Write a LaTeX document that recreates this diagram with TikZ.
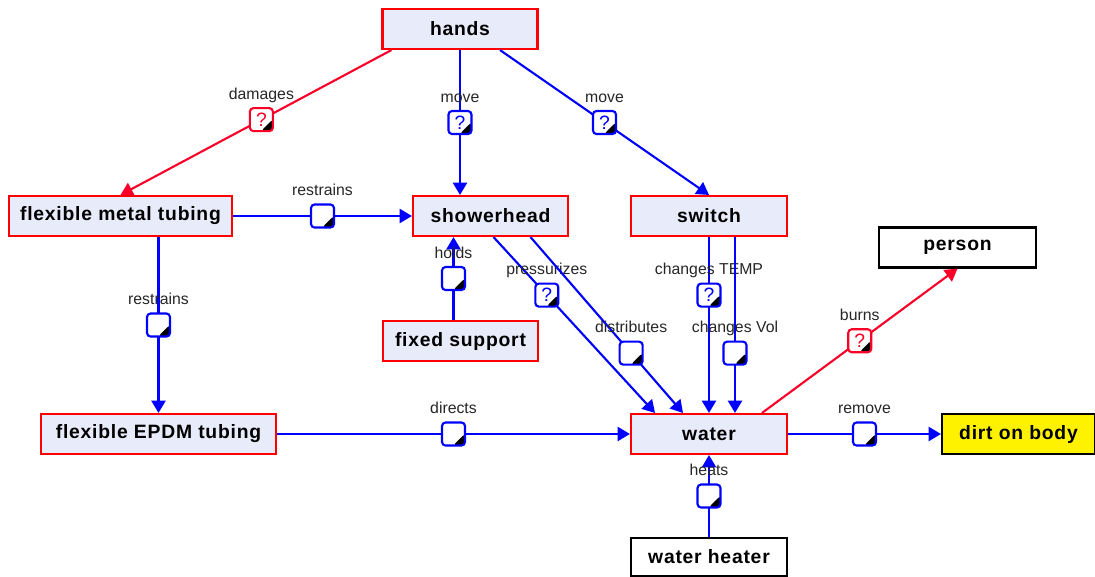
\documentclass[tikz,border=0pt]{standalone}
\usepackage{fontspec}
\setmainfont{Liberation Sans}
\usetikzlibrary{arrows.meta}
\usetikzlibrary{positioning}

\definecolor{boxfill}{RGB}{232,236,250}
\definecolor{linkblue}{RGB}{0,0,255}
\definecolor{linkred}{RGB}{250,0,40}

\tikzset{
  partbox/.style={draw=red,line width=1.2pt,fill=boxfill,font=\bfseries\fontsize{11}{13}\selectfont\addfontfeature{LetterSpace=4},minimum height=0.8cm,inner sep=2pt},
  envbox/.style={partbox,draw=black},
  envbox/.append style={fill=white},
  goodlink/.style={draw=linkblue,line width=1.2pt,-{Triangle[width=8pt,length=7pt]}},
  badlink/.style={goodlink,draw=linkred},
  mk/.style={draw=#1,text=#1,fill=white,line width=1.2pt,rounded corners=2pt,minimum size=0.46cm,inner sep=0pt,font=\fontsize{11}{13}\selectfont,
    path picture={\fill[black] (path picture bounding box.south east) -- ++(-0.24cm,0) -- ++(0.24cm,0.24cm) -- cycle;}},
  mk/.default=linkblue,
  lbl/.style={font=\fontsize{9}{10}\selectfont,text=black!85,inner sep=0pt,text height=1.6ex,text depth=0.4ex,on grid},
}

\begin{document}
\begin{tikzpicture}[x=0.02cm,y=-0.02cm]
\useasboundingbox (0,0) rectangle (1095,576);

% parts of the system
\node[partbox,minimum width=3.1cm] (hands) at (460,29) {hands};
\node[partbox,minimum width=4.46cm] (metal) at (120.5,216) {flexible metal tubing};
\node[partbox,minimum width=3.1cm] (shower) at (490.5,216) {showerhead};
\node[partbox,minimum width=3.12cm] (switch) at (709,216) {switch};
\node[envbox,minimum width=3.14cm] (person) at (957.5,247.5) {person};
\node[partbox,minimum width=3.1cm] (support) at (460.5,341) {fixed support};
\node[partbox,minimum width=4.7cm] (epdm) at (158.5,434) {flexible EPDM tubing};
\node[partbox,minimum width=3.12cm] (water) at (709,434) {water};
\node[envbox,fill=yellow,minimum width=3.06cm] (dirt) at (1018.5,434) {dirt on body};
\node[envbox,minimum width=3.12cm,minimum height=0.76cm] (heater) at (709,557) {water heater};

% relations
\draw[badlink] ([xshift=0.2cm]hands.south west) -- (metal.north) node[mk=linkred,pos=.48] (m1) {?};
\node[lbl,above=0.52cm of m1] (t1) {damages};
\draw[goodlink] (hands.south) -- (hands.south |- shower.north) node[mk,pos=.5] (m2) {?};
\node[lbl,above=0.52cm of m2] (t2) {move};
\draw[goodlink] ([xshift=0.8cm]hands.south) -- (switch.north) node[mk,pos=.5] (m3) {?};
\node[lbl,above=0.52cm of m3] (t3) {move};

\draw[goodlink] (metal.east) -- (shower.west) node[mk,pos=.5] (m4) {};
\node[lbl,above=0.52cm of m4] (t4) {restrains};
\draw[goodlink] (epdm.north |- metal.south) -- (epdm.north) node[mk,pos=.5] (m5) {};
\node[lbl,above=0.52cm of m5] (t5) {restrains};
\draw[goodlink] ([xshift=-0.14cm]support.north) -- ([xshift=-0.14cm]support.north |- shower.south) node[mk,pos=.5] (m6) {};
\node[lbl,above=0.52cm of m6] (t6) {holds};

\draw[goodlink] ([xshift=0.06cm]shower.south) -- ([xshift=-1.08cm]water.north) node[mk,pos=.33] (m7) {?};
\node[lbl,above=0.52cm of m7] (t7) {pressurizes};
\draw[goodlink] ([xshift=0.8cm]shower.south) -- ([xshift=-0.52cm]water.north) node[mk,pos=.66] (m8) {};
\node[lbl,above=0.52cm of m8] (t8) {distributes};
\draw[goodlink] (switch.south) -- (water.north) node[mk,pos=.33] (m9) {?};
\node[lbl,above=0.52cm of m9] (t9) {changes TEMP};
\draw[goodlink] ([xshift=0.52cm]switch.south) -- ([xshift=0.52cm]water.north) node[mk,pos=.66] (m10) {};
\node[lbl,above=0.52cm of m10] (t10) {changes Vol};

\draw[goodlink] (epdm.east) -- (water.west) node[mk,pos=.5] (m11) {};
\node[lbl,above=0.52cm of m11] (t11) {directs};
\draw[goodlink] (water.east) -- (dirt.west) node[mk,pos=.5] (m12) {};
\node[lbl,above=0.52cm of m12] (t12) {remove};
\draw[badlink] ([xshift=1.06cm]water.north) -- (person.south) node[mk=linkred,pos=.5] (m13) {?};
\node[lbl,above=0.52cm of m13] (t13) {burns};
\draw[goodlink] (heater.north) -- (water.south) node[mk,pos=.5] (m14) {};
\node[lbl,above=0.52cm of m14] (t14) {heats};

\end{tikzpicture}
\end{document}
